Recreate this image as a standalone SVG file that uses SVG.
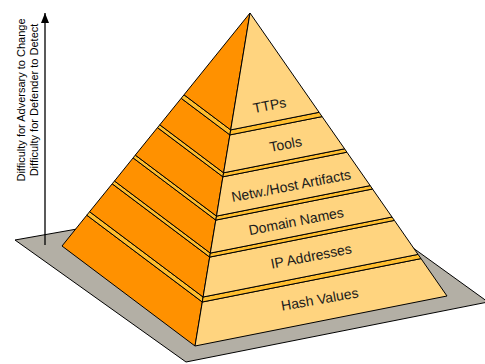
<svg xmlns="http://www.w3.org/2000/svg" width="485" height="364" viewBox="0 0 485 364">
<defs>
<style>
.left{fill:#FF9100;stroke:#000;stroke-width:1;stroke-linejoin:round}
.right{fill:#FFD47F;stroke:#000;stroke-width:1;stroke-linejoin:round}
.ledge{fill:#FFBE2E;stroke:#000;stroke-width:1;stroke-linejoin:round}
.ground{fill:#B3AFA5;stroke:#000;stroke-width:1;stroke-linejoin:round}
.lbl{font-family:"Liberation Sans",Arial,sans-serif;font-size:14px;fill:#1a1a1a;text-anchor:middle}
.axis{font-family:"Liberation Sans",Arial,sans-serif;font-size:11px;fill:#000;text-anchor:middle}
</style>
<marker id="arr" markerWidth="10" markerHeight="8" refX="10" refY="4" orient="auto" markerUnits="userSpaceOnUse">
<path d="M0,0 L10,4 L0,8 Z" fill="#000"/>
</marker>
</defs>
<rect width="485" height="364" fill="#fff"/>
<g id="ground">
<polygon class="ground" points="15,240 325.6,184.9 488,302 186,362"/>
</g>
<g id="connectors">
<line x1="45" y1="245" x2="45" y2="13" stroke="#000" stroke-width="1.3" marker-end="url(#arr)"/>
</g>
<g id="axis-label">
<text class="axis" transform="translate(24.5,100) rotate(-90)">Difficulty for Adversary to Change</text>
<text class="axis" transform="translate(37.5,100) rotate(-90)">Difficulty for Defender to Detect</text>
</g>
<g id="hash-values">
<polygon class="left" points="62,246 195,346 202.3,302 86.8,215.2"/>
<polygon class="right" points="195,346 447,296 421,258.6 202.3,302"/>
<polygon class="ledge" points="86.8,215.2 202.3,302 203.1,297 89.6,211.7"/>
<polygon class="ledge" points="202.3,302 421,258.6 418,254.4 203.1,297"/>
<text class="lbl" transform="translate(320.5,304) rotate(-10)">Hash Values</text>
</g>
<g id="ip-addresses">
<polygon class="left" points="89.6,211.7 203.1,297 209.7,257.1 112.2,183.8"/>
<polygon class="right" points="203.1,297 418,254.4 394.4,220.4 209.7,257.1"/>
<polygon class="ledge" points="112.2,183.8 209.7,257.1 210.3,253.1 114.5,181"/>
<polygon class="ledge" points="209.7,257.1 394.4,220.4 392,217 210.3,253.1"/>
<text class="lbl" transform="translate(312,261) rotate(-11)">IP Addresses</text>
</g>
<g id="domain-names">
<polygon class="left" points="114.5,181 210.3,253.1 215.8,220.1 133.1,157.9"/>
<polygon class="right" points="210.3,253.1 392,217 372.5,189 215.8,220.1"/>
<polygon class="ledge" points="133.1,157.9 215.8,220.1 216.5,216.1 135.3,155.1"/>
<polygon class="ledge" points="215.8,220.1 372.5,189 370.2,185.6 216.5,216.1"/>
<text class="lbl" transform="translate(297,226) rotate(-11)">Domain Names</text>
</g>
<g id="netw-host-artifacts">
<polygon class="left" points="135.3,155.1 216.5,216.1 222.9,176.8 157.5,127.6"/>
<polygon class="right" points="216.5,216.1 370.2,185.6 346.9,152.2 222.9,176.8"/>
<polygon class="ledge" points="157.5,127.6 222.9,176.8 223.6,172.8 159.8,124.8"/>
<polygon class="ledge" points="222.9,176.8 346.9,152.2 344.6,148.8 223.6,172.8"/>
<text class="lbl" transform="translate(292,190.5) rotate(-11)">Netw./Host Artifacts</text>
</g>
<g id="tools">
<polygon class="left" points="159.8,124.8 223.6,172.8 229.9,134.9 181.2,98.3"/>
<polygon class="right" points="223.6,172.8 344.6,148.8 322.1,116.6 229.9,134.9"/>
<polygon class="ledge" points="181.2,98.3 229.9,134.9 230.7,129.9 184,94.8"/>
<polygon class="ledge" points="229.9,134.9 322.1,116.6 319.1,112.3 230.7,129.9"/>
<text class="lbl" transform="translate(286.5,149) rotate(-11)">Tools</text>
</g>
<g id="ttps">
<polygon class="left" points="184,94.8 230.7,129.9 250,13"/>
<polygon class="right" points="230.7,129.9 319.1,112.3 250,13"/>
<text class="lbl" transform="translate(270.5,110) rotate(-11)">TTPs</text>
</g>
</svg>
